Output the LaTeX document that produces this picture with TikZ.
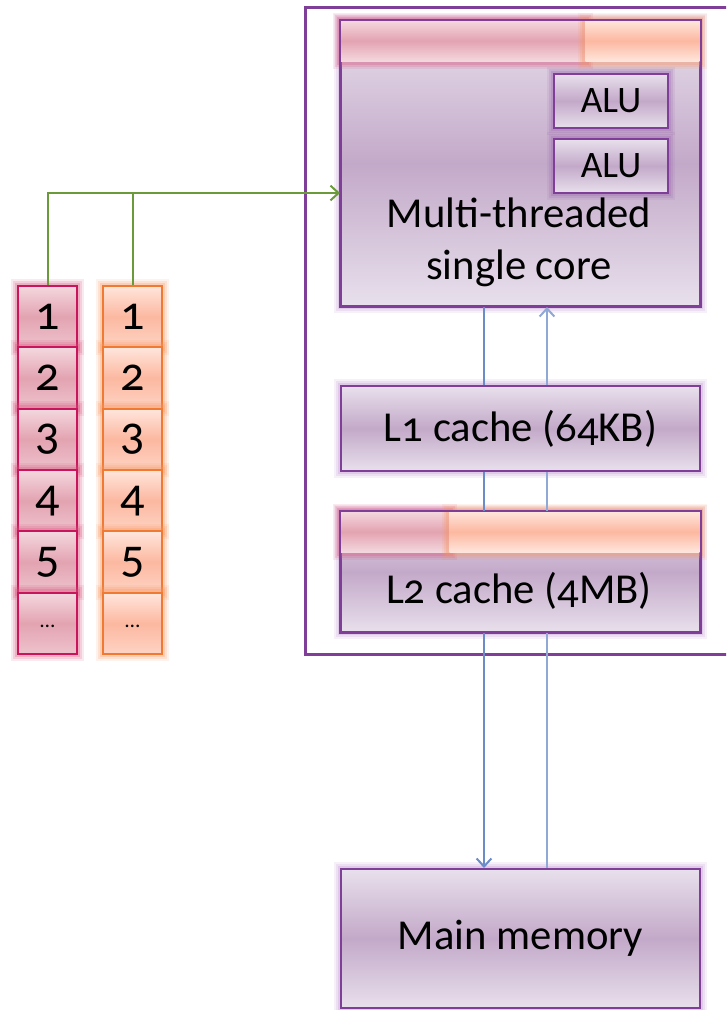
\documentclass[tikz,border=0pt]{standalone}
\usepackage{fontspec}
\setmainfont{Carlito}[Numbers=OldStyle]
\usetikzlibrary{arrows.meta,shadings}

\definecolor{frame}{HTML}{7F3F98}
\definecolor{glowpurple}{HTML}{B98BCB}
\definecolor{boxlight}{HTML}{E8E0EC}
\definecolor{boxmid}{HTML}{C3A9C9}
\definecolor{pinkedge}{HTML}{C8155C}
\definecolor{pinkglow}{HTML}{D8507A}
\definecolor{pinklight}{HTML}{F4D8DF}
\definecolor{pinkmid}{HTML}{E3A3B1}
\definecolor{orangeedge}{HTML}{F07A32}
\definecolor{orangeglow}{HTML}{F8955F}
\definecolor{orangelight}{HTML}{FFE6DC}
\definecolor{orangemid}{HTML}{FCB8A0}
\definecolor{busdown}{HTML}{6A8CC8}
\definecolor{busup}{HTML}{8FA8D6}
\definecolor{feed}{HTML}{6A9A3A}

\tikzset{
  softglow/.style={
    preaction={draw=#1, line width=11pt, opacity=0.12},
    preaction={draw=#1, line width=8pt, opacity=0.18},
    preaction={draw=#1, line width=5pt, opacity=0.25}},
  unitbox/.style={draw=frame, line width=1.5pt, anchor=north west,
    top color=boxlight, bottom color=boxlight, middle color=boxmid,
    softglow=glowpurple,
    inner sep=0pt, font=\fontsize{32}{38}\selectfont},
  alubox/.style={draw=frame, line width=1.5pt, anchor=north west,
    top color=boxlight, bottom color=boxlight, middle color=boxmid,
    inner sep=0pt, minimum width=85.5pt, minimum height=40.5pt,
    font=\fontsize{28}{32}\selectfont, softglow=frame!80},
  pinkcell/.style={draw=pinkedge, line width=1.5pt, anchor=north west,
    minimum width=44.25pt, minimum height=46pt, inner sep=0pt,
    top color=pinklight, bottom color=pinklight!60!pinkmid, middle color=pinkmid,
    softglow=pinkglow, font=\fontsize{36}{38}\selectfont},
  orangecell/.style={draw=orangeedge, line width=1.5pt, anchor=north west,
    minimum width=44.25pt, minimum height=46pt, inner sep=0pt,
    top color=orangelight, bottom color=orangelight!60!orangemid, middle color=orangemid,
    softglow=orangeglow, font=\fontsize{36}{38}\selectfont},
  pinkband/.style={anchor=north west, inner sep=0pt, minimum height=30.75pt,
    top color=pinklight, bottom color=pinklight, middle color=pinkmid,
    softglow=pinkglow},
  orangeband/.style={anchor=north west, inner sep=0pt, minimum height=30.75pt,
    top color=orangelight, bottom color=orangelight, middle color=orangemid,
    softglow=orangeglow},
  label/.style={inner sep=0pt, align=center, font=\fontsize{32}{39}\selectfont},
  bus/.style={line width=1.5pt},
  tip/.style={-{Straight Barb[length=6pt,width=11pt]}},
}

\begin{document}
\begin{tikzpicture}[x=0.75pt, y=-0.75pt]
\useasboundingbox (0,0) rectangle (726,1010);
\clip (0,0) rectangle (726,1010);

% chip outline, running off the right edge
\draw[frame, line width=2.25pt] (740,7) -- (305,7) -- (305,654) -- (740,654);

% core
\node[unitbox, minimum width=269.25pt, minimum height=213.75pt] (core) at (340,20) {};
\node[pinkband, minimum width=183.75pt] (coreA) at (340,20) {};
\node[orangeband, minimum width=85.5pt] (coreB) at (585,20) {};
\draw[frame, line width=1.5pt] (core.south west) rectangle (core.north east);
\node[alubox] (alu1) at (553,73) {ALU};
\node[alubox] (alu2) at (553,138) {ALU};
\node[label] (coretext) at (519,242) {Multi-threaded\\single core};

% caches
\node[unitbox, minimum width=269.25pt, minimum height=63.75pt] (l1) at (340,385) {L1 cache (64KB)};
\node[unitbox, minimum width=269.25pt, minimum height=90pt] (l2) at (340,511) {};
\node[pinkband, minimum width=81.75pt] (l2A) at (340,511) {};
\node[orangeband, minimum width=187.5pt] (l2B) at (449,511) {};
\draw[frame, line width=1.5pt] (l2.south west) rectangle (l2.north east);
\node[label] (l2text) at (519,591) {L2 cache (4MB)};

% main memory
\node[unitbox, minimum width=269.25pt, minimum height=104.25pt] (mem) at (340,868) {Main memory};

% buses
\coordinate (lanedown) at (484,0);
\coordinate (laneup) at (547,0);
\draw[bus, busdown] (core.south -| lanedown) -- (l1.north -| lanedown);
\draw[bus, busup, tip] (l1.north -| laneup) -- (core.south -| laneup);
\draw[bus, busdown] (l1.south -| lanedown) -- (l2.north -| lanedown);
\draw[bus, busup] (l1.south -| laneup) -- (l2.north -| laneup);
\draw[bus, busdown, tip] (l2.south -| lanedown) -- (mem.north -| lanedown);
\draw[bus, busup] (mem.north -| laneup) -- (l2.south -| laneup);

% thread queues
\foreach \i/\t in {1/1,2/2,3/3,4/4,5/5} {
  \node[pinkcell] (p\i) at (17,{285+(\i-1)*61.33}) {\raisebox{-3.5pt}{\t}};
  \node[orangecell] (o\i) at (102,{285+(\i-1)*61.33}) {\raisebox{-3.5pt}{\t}};
}
\node[pinkcell, font=\fontsize{16}{18}\selectfont] (p6) at (17,591.7) {\raisebox{-6pt}{\ldots}};
\node[orangecell, font=\fontsize{16}{18}\selectfont] (o6) at (102,591.7) {\raisebox{-6pt}{\ldots}};

% instruction feed into the core
\coordinate (inlet) at (340,193);
\draw[feed, line width=1.5pt, tip] (p1.north) |- (inlet);
\draw[feed, line width=1.5pt] (o1.north) -- (o1.north |- inlet);
\end{tikzpicture}
\end{document}
